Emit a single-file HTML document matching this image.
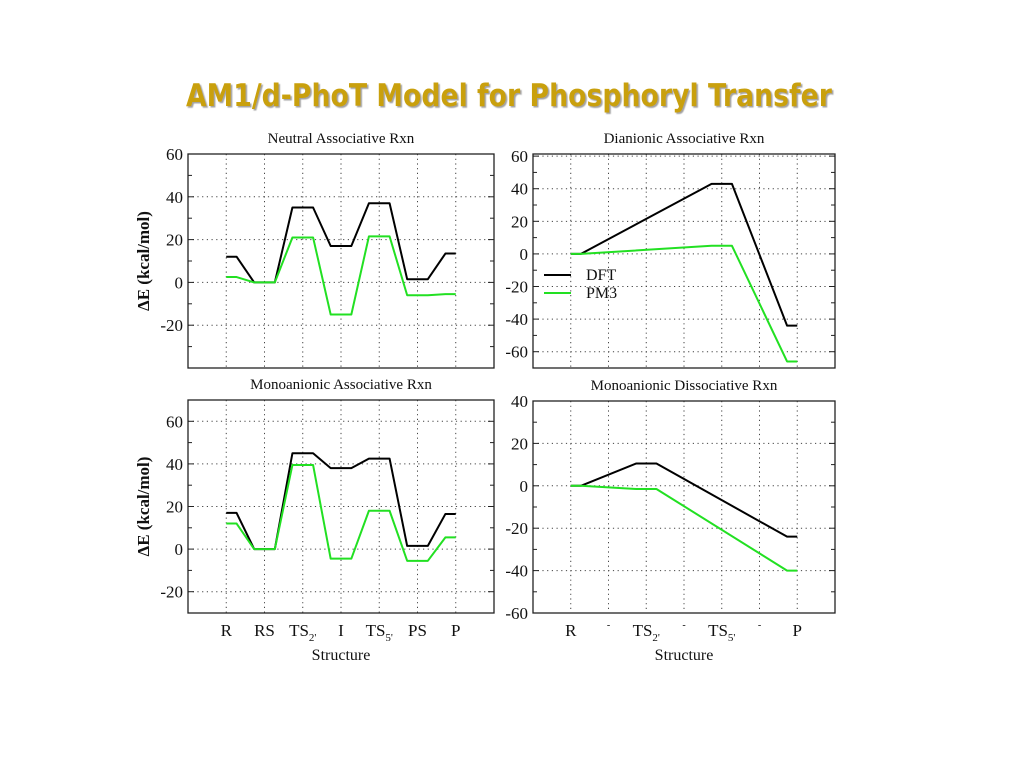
<!DOCTYPE html>
<html><head><meta charset="utf-8"><style>
body{margin:0;background:#fff;width:1024px;height:768px;overflow:hidden}
svg{display:block}
</style></head><body>
<svg id="chart" width="1024" height="768" xmlns="http://www.w3.org/2000/svg">
<defs><filter id="sh" x="-5%" y="-20%" width="110%" height="140%"><feDropShadow dx="1.5" dy="1.5" stdDeviation="0.6" flood-color="#8a8a8a" flood-opacity="0.8"/></filter></defs>
<text x="186" y="106" font-family="'DejaVu Sans Condensed','DejaVu Sans',sans-serif" font-size="31" font-weight="bold" fill="#c9a00a" filter="url(#sh)" textLength="646" lengthAdjust="spacingAndGlyphs">AM1/d-PhoT Model for Phosphoryl Transfer</text>
</svg>
<script>
const catsAssoc = ["R","RS","TS2'","I","TS5'","PS","P"];
const catsSparse = ["R","-","TS2'","-","TS5'","-","P"];
const neutralIdx = [0,1,2,3,4,5,6];
const neutralDFT = [12,0,35,17,37,1.5,13.5];
const neutralPM3 = [2.5,0,21,-15,21.5,-6,-5.5];
const dianIdx = [0,4,6];
const dianDFT = [0,43,-44];
const dianPM3 = [0,5,-66];
const monoAssocIdx = [0,1,2,3,4,5,6];
const monoAssocDFT = [17,0,45,38,42.5,1.5,16.5];
const monoAssocPM3 = [12,0,39.5,-4.5,18,-5.5,5.5];
const monoDissIdx = [0,2,6];
const monoDissDFT = [0,10.5,-24];
const monoDissPM3 = [0,-1.5,-40];
const ticksA = [60,40,20,0,-20];
const ticksB = [60,40,20,0,-20,-40,-60];
const ticksC = [60,40,20,0,-20];
const ticksD = [40,20,0,-20,-40,-60];
const legendLabels = ["DFT","PM3"];

const NS="http://www.w3.org/2000/svg";
const svg=document.getElementById('chart');
function mk(tag,attrs,parent){const e=document.createElementNS(NS,tag);for(const k in attrs)e.setAttribute(k,attrs[k]);(parent||svg).appendChild(e);return e;}

function panel(o){
  const g=mk('g',{});
  
  
  const x=i=>o.x0+(i+1)/8*(o.x1-o.x0);
  const y=v=>o.y1-(v-o.ymin)/(o.ymax-o.ymin)*(o.y1-o.y0);
  for(let i=0;i<7;i++){
    const l=mk('line',{x1:x(i),x2:x(i),y1:o.y0,y2:o.y1,stroke:'#444','stroke-width':1,'stroke-dasharray':'1.2,3.5'},g);
    
    
  }
  for(const t of o.ticks){
    if(y(t)>o.y0+2&&y(t)<o.y1-2){
      const l=mk('line',{x1:o.x0,x2:o.x1,y1:y(t),y2:y(t),stroke:'#444','stroke-width':1,'stroke-dasharray':'1.2,3.5'},g);
      
      
    }
    const tl=mk('text',{x:o.x0-5,y:y(t)+6,'text-anchor':'end','font-family':"'Liberation Serif',serif",'font-size':17,fill:'#111'},g);
    tl.textContent=t;
    
    
  }
  for(let v=Math.ceil(o.ymin/10)*10;v<=o.ymax;v+=10){
    const len=(v%20===0)?6:4;
    mk('line',{x1:o.x0,x2:o.x0+len,y1:y(v),y2:y(v),stroke:'#222'},g);
    mk('line',{x1:o.x1,x2:o.x1-len,y1:y(v),y2:y(v),stroke:'#222'},g);
  }
  const box=mk('rect',{x:o.x0,y:o.y0,width:o.x1-o.x0,height:o.y1-o.y0,fill:'none',stroke:'#222','stroke-width':1.3},g);
  
  
  const tt=mk('text',{x:(o.x0+o.x1)/2,y:o.y0-11,'text-anchor':'middle','font-family':"'Liberation Serif',serif",'font-size':15,fill:'#111'},g);
  tt.textContent=o.title;
  
  
  const h=0.27;
  function series(idx,vals,color,nm){
    const pts=[];
    idx.forEach((i,k)=>{pts.push([x(Math.max(i-h,0)),y(vals[k])]);pts.push([x(Math.min(i+h,6)),y(vals[k])]);});
    const p=mk('polyline',{points:pts.map(p=>p.join(',')).join(' '),fill:'none',stroke:color,'stroke-width':2,'stroke-linejoin':'round'},g);
    
    
  }
  series(o.idx,o.dft,'#000','dft-line');
  series(o.idx,o.pm3,'#22e022','pm3-line');
  if(o.cats){
    o.cats.forEach((c,i)=>{
      const t=mk('text',{x:x(i),y:o.y1+23,'text-anchor':'middle','font-family':"'Liberation Serif',serif",'font-size':c==='-'?10:17,fill:'#111'},g);
      
      
      if(c.startsWith('TS')){
        t.textContent='TS';
        const s=mk('tspan',{'font-size':11,dy:5},t);s.textContent=c.slice(2);
      } else { t.textContent=c; if(c==='-') t.setAttribute('y',o.y1+15); }
    });
    const xl=mk('text',{x:(o.x0+o.x1)/2,y:o.y1+47,'text-anchor':'middle','font-family':"'Liberation Serif',serif",'font-size':16,fill:'#111'},g);
    xl.textContent='Structure';
    
    
  }
  if(o.ytitle){
    const cy=(o.y0+o.y1)/2;
    const yl=mk('text',{x:149,y:cy,'text-anchor':'middle','font-family':"'Liberation Serif',serif",'font-size':17,'font-weight':'bold',fill:'#111',transform:`rotate(-90 149 ${cy})`},g);
    yl.textContent='ΔE (kcal/mol)';
    
    
  }
  if(o.legend){
    const lg=mk('g',{},g);
    
    
    ['#000','#22e022'].forEach((c,k)=>{
      const yy=275+k*18;
      mk('line',{x1:544,x2:571,y1:yy,y2:yy,stroke:c,'stroke-width':2},lg);
      const t=mk('text',{x:586,y:yy+5,'font-family':"'Liberation Serif',serif",'font-size':16,fill:'#111'},lg);
      t.textContent=legendLabels[k];
      
      
    });
  }
}
panel({name:'neutral-associative-panel',title:'Neutral Associative Rxn',x0:188,x1:494,y0:154,y1:368,ymin:-40,ymax:60,ticks:ticksA,idx:neutralIdx,dft:neutralDFT,pm3:neutralPM3,ytitle:true});
panel({name:'dianionic-associative-panel',title:'Dianionic Associative Rxn',x0:533,x1:835,y0:154,y1:368,ymin:-70,ymax:61.3,ticks:ticksB,idx:dianIdx,dft:dianDFT,pm3:dianPM3,legend:true});
panel({name:'monoanionic-associative-panel',title:'Monoanionic Associative Rxn',x0:188,x1:494,y0:400,y1:613,ymin:-30,ymax:70,ticks:ticksC,idx:monoAssocIdx,dft:monoAssocDFT,pm3:monoAssocPM3,ytitle:true,cats:catsAssoc});
panel({name:'monoanionic-dissociative-panel',title:'Monoanionic Dissociative Rxn',x0:533,x1:835,y0:401,y1:613,ymin:-60,ymax:40,ticks:ticksD,idx:monoDissIdx,dft:monoDissDFT,pm3:monoDissPM3,cats:catsSparse});
</script>
</body></html>
